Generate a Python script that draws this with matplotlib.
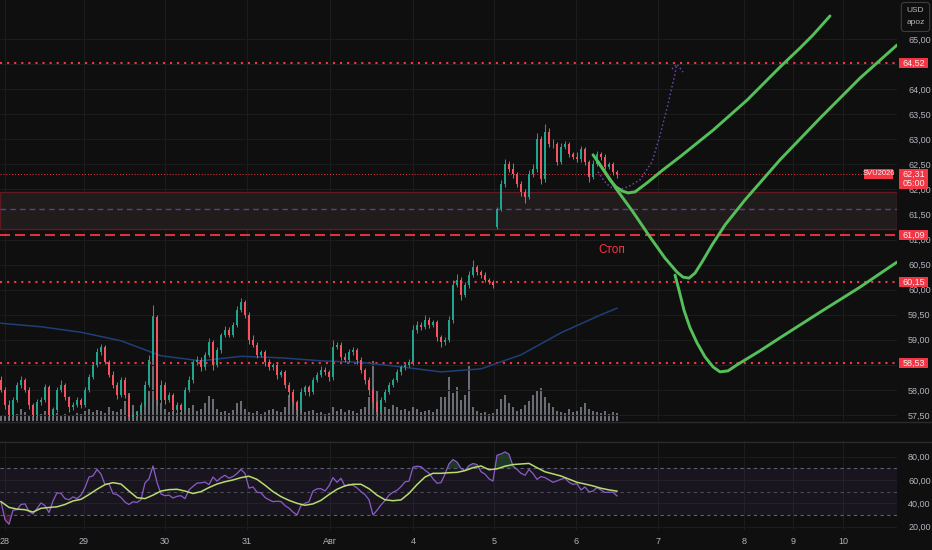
import numpy as np
import matplotlib.pyplot as plt
import matplotlib.transforms as mtransforms
from matplotlib.lines import Line2D
from matplotlib.patches import Rectangle

plt.rcParams['font.family'] = ['Liberation Sans', 'DejaVu Sans']

# Цены закрытия по барам (шаг бара ~4 px)
closes = [
    58.0, 57.7, 57.5, 57.8, 58.1, 58.2, 58.0, 57.7, 57.5, 57.75,
    57.8, 58.05, 57.5, 57.6, 58.0, 58.1, 57.85, 57.65, 57.7, 57.8,
    57.7, 58.0, 58.25, 58.5, 58.75, 58.85, 58.55, 58.3, 58.1, 57.9,
    58.2, 57.9, 57.45, 57.5, 57.55, 57.7, 58.1, 58.6, 59.45, 57.8,
    58.1, 57.8, 57.9, 57.6, 57.7, 57.6, 58.0, 58.2, 58.55, 58.6,
    58.45, 58.7, 58.95, 58.5, 58.8, 59.1, 59.2, 59.1, 59.3, 59.6,
    59.75, 59.5, 59.0, 58.9, 58.7, 58.75, 58.55, 58.45, 58.5, 58.3,
    58.35, 58.1, 57.95, 57.75, 57.6, 57.95, 58.05, 57.95, 58.2, 58.3,
    58.4, 58.35, 58.25, 58.85, 58.9, 58.65, 58.6, 58.75, 58.8, 58.6,
    58.4, 58.2, 58.0, 57.75, 57.55, 57.8, 57.95, 58.1, 58.2, 58.35,
    58.45, 58.5, 58.55, 59.2, 59.3, 59.25, 59.4, 59.3, 59.35, 59.05,
    58.95, 59.0, 59.4, 60.1, 60.2, 59.9, 60.1, 60.3, 60.45, 60.35,
    60.3, 60.2, 60.15, 60.1, 61.6, 62.1, 62.5, 62.4, 62.3, 62.1,
    61.95, 61.85, 62.3, 62.4, 63.0, 62.2, 63.15, 62.9, 62.9, 62.55,
    62.85, 62.9, 62.7, 62.65, 62.6, 62.8, 62.55, 62.25, 62.5, 62.7,
    62.65, 62.45, 62.5, 62.35, 62.31,
]
first_open = 58.2
gap_index = 124
gap_open = 61.25

wick_up = [
    .08, .05, .1, .06, .05, .08, .04, .05, .03, .06,
    .05, .07, .04, .06, .05, .1, .04, .03, .05, .06,
    .04, .05, .06, .05, .08, .06, .05, .04, .07, .05,
    .06, .05, .04, .05, .03, .06, .08, .1, .25, .05,
    .1, .05, .06, .04, .05, .03, .06, .07, .05, .08,
    .05, .06, .08, .05, .06, .04, .07, .05, .06, .08,
    .08, .05, .05, .1, .06, .04, .05, .06, .04, .05,
    .05, .04, .05, .06, .05, .08, .05, .04, .06, .05,
    .07, .05, .04, .15, .06, .05, .08, .06, .05, .04,
    .05, .04, .06, .05, .04, .05, .06, .05, .04, .06,
    .05, .04, .06, .1, .08, .05, .1, .06, .05, .04,
    .05, .06, .08, .1, .12, .05, .06, .08, .15, .05,
    .04, .05, .03, .04, .05, .08, .1, .06, .12, .05,
    .06, .05, .08, .1, .12, .06, .15, .08, .1, .05,
    .08, .06, .05, .04, .1, .06, .05, .04, .08, .06,
    .05, .06, .04, .05, .04,
]
wick_dn = [
    .05, .08, .1, .05, .04, .06, .05, .08, .1, .04,
    .06, .05, .1, .08, .04, .05, .06, .1, .05, .04,
    .06, .04, .05, .04, .05, .06, .04, .05, .06, .08,
    .05, .06, .1, .08, .06, .05, .04, .05, .06, .1,
    .06, .08, .05, .1, .06, .08, .05, .04, .06, .05,
    .08, .05, .04, .1, .05, .06, .04, .05, .04, .05,
    .04, .06, .08, .05, .06, .05, .08, .05, .06, .08,
    .05, .06, .08, .06, .15, .06, .05, .08, .04, .05,
    .05, .06, .08, .05, .04, .06, .05, .04, .06, .08,
    .06, .08, .1, .12, .1, .06, .05, .04, .05, .04,
    .05, .06, .04, .05, .06, .05, .04, .06, .05, .08,
    .1, .06, .05, .06, .05, .1, .05, .06, .04, .05,
    .06, .05, .04, .06, .05, .04, .06, .05, .08, .06,
    .08, .12, .05, .06, .05, .1, .06, .05, .08, .06,
    .05, .04, .06, .05, .06, .05, .06, .1, .05, .04,
    .06, .05, .04, .06, .08,
]

volumes = [
    600, 500, 800, 1000, 700, 1200, 900, 600, 500, 800,
    700, 1000, 900, 1200, 800, 600, 700, 500, 600, 800,
    700, 1000, 1200, 900, 1100, 1000, 800, 1400, 1000, 900,
    1200, 2000, 2800, 1600, 1000, 1400, 2200, 3000, 10500, 4000,
    1800, 1200, 900, 1000, 800, 900, 1100, 1300, 1600, 1000,
    1200, 1800, 2500, 2200, 1200, 900, 1000, 800, 1100, 1800,
    2000, 1200, 900, 800, 1000, 700, 900, 1100, 1200, 1000,
    900, 1400, 2600, 2200, 1800, 1200, 900, 1000, 1100, 800,
    900, 700, 800, 1400, 1000, 1200, 900, 1100, 1000, 800,
    1200, 1400, 2400, 6000, 3000, 2000, 1400, 1200, 1600, 1400,
    1100, 1200, 1000, 1400, 1200, 900, 1000, 1100, 900, 1200,
    2400, 2400, 4400, 2800, 3400, 2100, 2600, 5600, 1400, 1000,
    800, 900, 700, 800, 1200, 2200, 2600, 1800, 1400, 1000,
    1200, 1600, 2000, 2600, 3000, 3300, 2400, 1800, 1400, 1000,
    900, 800, 1200, 900, 1000, 1400, 1800, 1200, 1000, 900,
    800, 1000, 700, 900, 800,
]

# Скользящая средняя (200) - значения на отдельных барах
ma_bars = [0, 10, 20, 30, 40, 50, 60, 70, 80, 90, 100, 110, 120, 130, 140, 150, 154]
ma_values = [59.33, 59.26, 59.15, 58.98, 58.68, 58.58, 58.67, 58.64, 58.58,
             58.55, 58.46, 58.36, 58.42, 58.7, 59.14, 59.5, 59.63]

rsi = [
    41.4, 26, 22, 34, 34.6, 39, 39.5, 33, 31, 35.5,
    40.3, 38, 32, 42, 49, 48.5, 44, 43, 45.5, 44,
    47, 53.5, 62.5, 63.5, 69, 65, 56, 56.8, 48.3, 47.5,
    45, 41, 39, 41.3, 40.8, 43, 57.5, 61, 72, 58,
    48, 46.5, 47, 44.5, 46, 46.5, 44, 51.5, 54.5, 57.3,
    57.5, 58.2, 56, 62.5, 59, 62, 64, 61.5, 63, 65.5,
    69, 65.5, 53, 54, 49.5, 49, 45, 43, 41.4, 41.8,
    41.5, 38, 35.8, 32.5, 30, 38, 40, 41.4, 50.5, 52.4,
    52.5, 50.5, 55, 62, 58, 61.4, 54.6, 56.3, 55.5, 53.2,
    50, 47.4, 43, 30, 34, 38.6, 42.3, 47, 49.5, 51.1,
    54.3, 58.4, 59, 71, 71.8, 71.4, 68.3, 65.8, 61, 57.2,
    57.7, 65, 73.8, 77.5, 75.3, 70, 68, 72.3, 74.1, 73.2,
    67.1, 65, 61, 59, 81.2, 82.3, 84, 82, 72, 69,
    65.7, 64, 69, 65.5, 60.5, 62.9, 62, 60, 58, 59.2,
    60.6, 61.5, 58, 56.2, 56.8, 51.4, 54, 49.7, 50.5, 53.4,
    51.4, 49.3, 49.5, 49.4, 46.3,
]
# MA по RSI, каждый второй бар
rsi_ma = [
    41.4, 36.5, 35, 34.5, 32.5, 35.7, 36.4, 37, 39, 42,
    43.4, 47.5, 52, 56, 57.7, 56.5, 50.5, 44.8, 44, 47,
    50.5, 51.7, 52, 50.5, 48.4, 50, 53.5, 56.5, 58.5, 60,
    62, 63.2, 60.5, 55.5, 50, 45.7, 42.5, 40, 38.3, 39.5,
    42.5, 47.5, 52, 55, 56.3, 56.3, 52.5, 47, 43, 42.2,
    42.9, 48.5, 56, 62.5, 65.7, 65.7, 66.2, 66.5, 68, 70.5,
    72, 68.8, 69.5, 71.8, 73.2, 73.7, 74.2, 70.5, 67, 65.2,
    63.4, 60.7, 58, 56.5, 54.9, 52.9, 51.5, 50.4,
]

day_labels = ['28', '29', '30', '31', 'Авг', '4', '5', '6', '7', '8', '9', '10']
day_pos = [0.9, 20.75, 41, 61.5, 82.25, 103, 123.25, 143.75, 164.25, 185.75, 198, 210.5]

level_dotted = [64.52, 60.15, 58.53]
stop_level = 61.09
last_price = 62.31
zone_lo, zone_hi, zone_mid = 61.21, 61.95, 61.61

# Ручные рисунки (бар, цена)
path1_x = [149.25, 150.75, 152.25, 153.75, 155.25, 156.75, 158.5, 161.5, 165.5,
           169.75, 178, 186.5, 194.75, 199.75, 203, 207.25]
path1_y = [62.55, 62.37, 62.19, 62.05, 61.97, 61.93, 61.95, 62.13, 62.39,
           62.65, 63.18, 63.78, 64.44, 64.82, 65.08, 65.46]
path2_x = [148, 151, 154, 158, 162.25, 166, 169, 170.5, 172, 173.5, 175.25,
           177.75, 181, 186, 194.75, 204.75, 214.75, 224]
path2_y = [62.69, 62.35, 61.99, 61.55, 61.05, 60.63, 60.35, 60.25, 60.23, 60.33,
           60.55, 60.89, 61.29, 61.79, 62.59, 63.42, 64.22, 64.88]
path3_x = [168.5, 169.5, 170.75, 172.25, 174, 176, 178, 179.75, 181.75, 184,
           189.75, 194.75, 204.75, 214.75, 224]
path3_y = [60.29, 59.99, 59.59, 59.24, 58.94, 58.66, 58.46, 58.36, 58.38, 58.5,
           58.78, 59.04, 59.55, 60.05, 60.55]
proj_x = [149.25, 150.75, 152.25, 154.25, 156.75, 159.75, 162.75, 164.75, 166.75, 168.25, 169]
proj_y = [62.35, 62.17, 62.05, 61.99, 62.05, 62.19, 62.55, 63.08, 63.7, 64.22, 64.5]

BG = '#0f0f0f'
GRID = '#1c1c1c'
RED = '#f23645'
UP = '#1fa48e'
DOWN = '#f7525f'
AXTXT = '#b2b5be'
GREEN = '#55c05a'

W, H = 932, 550
RIGHT = 897
fig = plt.figure(figsize=(W / 100, H / 100), dpi=100, facecolor=BG)


def box(l, t, r, b):
    return [l / W, 1 - b / H, (r - l) / W, (b - t) / H]


ax_vol = fig.add_axes(box(0, 0, RIGHT, 421))
ax = fig.add_axes(box(0, 0, RIGHT, 421), sharex=ax_vol)
ax_rsi = fig.add_axes(box(0, 441, RIGHT, 530), sharex=ax_vol)
ax_vol.set_zorder(0)
ax.set_zorder(1)
ax.patch.set_visible(False)
ax_vol.set_facecolor(BG)
ax_rsi.set_facecolor(BG)

for a in (ax_vol, ax, ax_rsi):
    for s in a.spines.values():
        s.set_visible(False)

n = len(closes)
xs = np.arange(n)
closes = np.array(closes)
opens = np.concatenate([[first_open], closes[:-1]])
opens[gap_index] = gap_open
highs = np.maximum(opens, closes) + np.array(wick_up)
lows = np.minimum(opens, closes) - np.array(wick_dn)
colors = np.where(closes >= opens, UP, DOWN)

ax_vol.set_xlim(-0.25, 224)

# объём
ax_vol.bar(xs, volumes, width=0.6, color='#8a8d96', alpha=0.75, linewidth=0)
ax_vol.set_ylim(0, max(volumes) * 4)
ax_vol.set_yticks([])
for x in day_pos:
    ax_vol.axvline(x, color=GRID, lw=0.8, zorder=0)
ax_vol.tick_params(axis='x', length=0, labelbottom=False)

# основной график
y_lo, y_hi = 57.38, 65.778
ax.set_ylim(y_lo, y_hi)
px_per_unit = 421 / (y_hi - y_lo)
price_ticks = np.arange(57.5, 65.01, 0.5)
hidden_ticks = (64.5, 58.5)  # закрыты метками уровней
ax.yaxis.tick_right()
ax.set_yticks(price_ticks)
ax.set_yticklabels(['' if round(v, 2) in hidden_ticks else f'{v:.2f}'.replace('.', ',')
                    for v in price_ticks])
ax.tick_params(axis='y', length=0, pad=8, labelsize=6.5, labelcolor=AXTXT)
ax.tick_params(axis='x', length=0, labelbottom=False)
for v in price_ticks:
    ax.axhline(v, color=GRID, lw=0.8, zorder=0)

ax.axhspan(zone_lo, zone_hi, facecolor='#211c1c', edgecolor='#5e1a20', lw=1, zorder=0.8)
ax.axhline(zone_mid, color='#5b3f8c', lw=1, ls=(0, (4, 3)), zorder=0.9)

for lv in level_dotted:
    ax.axhline(lv, color=RED, lw=1.5, ls=(0, (1, 2.4)), zorder=2)
ax.axhline(stop_level, color=RED, lw=1.5, ls=(0, (4.8, 2.4)), zorder=2, alpha=0.9)
ax.hlines(last_price, -0.25, 215.75, color=RED, lw=0.7, ls=(0, (1, 2)), zorder=2)

ax.plot(ma_bars, ma_values, color='#1f3f78', lw=1.1, zorder=2.5)

# свечи
ax.vlines(xs, lows, highs, colors=colors, lw=0.7, zorder=3)
body = np.maximum(np.abs(closes - opens), 0.012)
ax.bar(xs, body, bottom=np.minimum(opens, closes), width=0.62, color=colors, linewidth=0, zorder=3.1)

# прогноз и рисунки
ax.plot(proj_x, proj_y, color='#6a47a6', lw=1.1, ls=(0, (1, 1.6)), zorder=3.5)
ax.plot([167.75, 169, 170.5], [64.4, 64.5, 64.34], color='#6a47a6', lw=1.1, ls=(0, (1, 1.6)), zorder=3.5)
for px, py in ((path1_x, path1_y), (path2_x, path2_y), (path3_x, path3_y)):
    ax.plot(px, py, color=GREEN, lw=2.1, zorder=4, solid_capstyle='round', solid_joinstyle='round')

ax.text(152.75, 60.79, 'Стоп', color=RED, fontsize=8.5, ha='center', va='center', zorder=5)

# метки на шкале цен
tr = mtransforms.blended_transform_factory(ax.transAxes, ax.transData)


def tag(price, texts, x0=899, x1=928, size=6.5):
    h = 10 * len(texts) / px_per_unit
    ax.add_patch(Rectangle((x0 / RIGHT, price - h / 2), (x1 - x0) / RIGHT, h, transform=tr,
                           fc=RED, ec='none', zorder=6, clip_on=False))
    step = 10 / px_per_unit
    top = price + step * (len(texts) - 1) / 2
    for k, t in enumerate(texts):
        ax.text((x0 + x1) / 2 / RIGHT, top - k * step, t, transform=tr, ha='center', va='center',
                fontsize=size, color='#fff0f0', zorder=7, clip_on=False)


tag(64.52, ['64,52'])
tag(62.21, ['62,31', '05:00'])
tag(61.09, ['61,09'])
tag(60.15, ['60,15'])
tag(58.53, ['58,53'])
tag(last_price, ['SVU2026'], x0=864, x1=893, size=5.5)

# RSI
ax_rsi.set_ylim(17.1, 93.4)
ax_rsi.yaxis.tick_right()
ax_rsi.set_yticks([20, 40, 60, 80])
ax_rsi.set_yticklabels(['20,00', '40,00', '60,00', '80,00'])
ax_rsi.tick_params(axis='y', length=0, pad=8, labelsize=6.5, labelcolor=AXTXT)
ax_rsi.set_xticks(day_pos)
ax_rsi.set_xticklabels(day_labels)
ax_rsi.tick_params(axis='x', length=0, pad=5, labelsize=6.5, labelcolor=AXTXT)
for v in (20, 40, 60, 80):
    ax_rsi.axhline(v, color=GRID, lw=0.8, zorder=0)
for x in day_pos:
    ax_rsi.axvline(x, color=GRID, lw=0.8, zorder=0)
ax_rsi.axhspan(30, 70, color='#7e57c2', alpha=0.09, lw=0, zorder=0.5)
ax_rsi.axhline(70, color='#5d6070', lw=0.8, ls=(0, (3, 3)), zorder=1)
ax_rsi.axhline(50, color='#4a4b55', lw=0.8, ls=(0, (3, 3)), zorder=1)
ax_rsi.axhline(30, color='#5d6070', lw=0.8, ls=(0, (3, 3)), zorder=1)

rsi = np.array(rsi)
ax_rsi.fill_between(xs, rsi, 70, where=rsi >= 70, interpolate=True, color='#2f6b3e', alpha=0.45, lw=0)
ax_rsi.fill_between(xs, rsi, 30, where=rsi <= 30, interpolate=True, color='#7a2030', alpha=0.5, lw=0)
ax_rsi.plot(xs, rsi, color='#8b5cc9', lw=0.9, zorder=2)
ax_rsi.plot(np.arange(len(rsi_ma)) * 2, rsi_ma, color='#b8dc6e', lw=1.1, zorder=2.5)

# разделители панелей
for yy in (421.5, 441.5):
    fig.add_artist(Line2D([0, 1], [1 - yy / H] * 2, color='#2b2b2b', lw=1, transform=fig.transFigure))

fig.text(915.5 / W, 1 - 17 / H, 'USD\napoz', ha='center', va='center', fontsize=6, color=AXTXT,
         linespacing=2.0, bbox=dict(boxstyle='round,pad=0.6,rounding_size=0.4', fc=BG, ec='#3d3d3d', lw=0.8))

fig.savefig('out.png', dpi=100, facecolor=BG)
